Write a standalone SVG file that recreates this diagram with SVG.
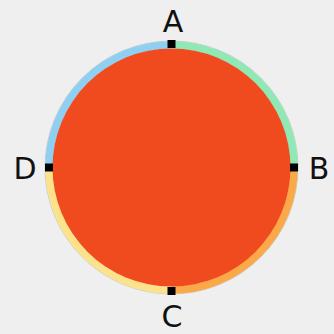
<svg xmlns="http://www.w3.org/2000/svg" width="334" height="334" viewBox="0 0 334 334">
<style>
.arc{fill:none;stroke-width:7.5}
.lbl{font-family:"DejaVu Sans",sans-serif;font-size:30px;fill:#111;text-anchor:middle}
.pt{fill:#000}
</style>
<rect width="334" height="334" fill="#efefef"/>
<g id="ring">
<circle cx="171.5" cy="167.5" r="126.5" fill="none" stroke="#aaa" stroke-opacity="0.5" stroke-width="1"/>
<path class="arc" stroke="#8fd0f2" d="M49,167.5 A122.5,122.5 0 0 1 171.5,45"/>
<path class="arc" stroke="#8fe9b4" d="M171.5,45 A122.5,122.5 0 0 1 294,167.5"/>
<path class="arc" stroke="#faa848" d="M294,167.5 A122.5,122.5 0 0 1 171.5,290"/>
<path class="arc" stroke="#fde28c" d="M171.5,290 A122.5,122.5 0 0 1 49,167.5"/>
</g>
<g id="disk">
<circle cx="171.5" cy="167.5" r="119" fill="#f04a1f"/>
</g>
<g id="A"><rect class="pt" x="167.5" y="40" width="8" height="8"/><text class="lbl" x="173" y="32">A</text></g>
<g id="B"><rect class="pt" x="290" y="163.5" width="8" height="8"/><text class="lbl" x="319" y="179">B</text></g>
<g id="C"><rect class="pt" x="167.5" y="287" width="8" height="8"/><text class="lbl" x="172" y="327">C</text></g>
<g id="D"><rect class="pt" x="45" y="163.5" width="8" height="8"/><text class="lbl" x="25" y="179">D</text></g>
</svg>
